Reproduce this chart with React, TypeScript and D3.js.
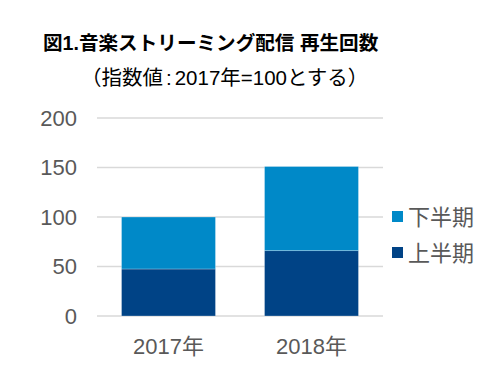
import React from "react";
import * as d3 from "d3";

const categories = ["2017年", "2018年"];
const firstHalf = [47.5, 66];
const secondHalf = [52.5, 85];
const seriesNames = ["上半期", "下半期"];
const yTicks = [0, 50, 100, 150, 200];
const colors = ["#004386", "#0089C8"];

const FONT = "'Liberation Sans', Arial, 'Noto Sans CJK JP', sans-serif";

export default function App() {
  const W = 504, H = 384;
  const y = d3.scaleLinear().domain([0, 200]).range([316, 118]);
  const x = d3.scaleBand<string>().domain(categories).range([97, 383]).paddingInner(0.343).paddingOuter(0.1715);
  const rows = categories.map((c, i) => ({ cat: c, a: firstHalf[i], b: secondHalf[i] }));
  const stacked = d3.stack<any>().keys(["a", "b"])(rows);

  return (
    <svg width={W} height={H} style={{ position: "absolute", left: 0, top: 0 }}>
      <rect width={W} height={H} fill="#fff" />
      <text x={43} y={50} fontFamily={FONT} fontWeight="bold" fontSize={19.6} fill="#000">
        図1.音楽ストリーミング配信 再生回数
      </text>
      <text x={81} y={85} fontFamily={FONT} fontSize={20.5} fill="#000">
        （指数値<tspan dx={3}>:</tspan><tspan dx={3}>2017年=100とする）</tspan>
      </text>
      {yTicks.map((t) => (
        <g key={t}>
          <line x1={97} x2={383} y1={y(t)} y2={y(t)} stroke="#d9d9d9" strokeWidth={1.5} />
          <text x={77} y={y(t)} dy="0.36em" textAnchor="end" fontFamily={FONT} fontSize={22} fill="#595959">
            {t}
          </text>
        </g>
      ))}
      {stacked.map((s, si) => (
        <g key={si}>
          {s.map((d, i) => (
            <rect
              key={i}
              x={x(categories[i])}
              width={x.bandwidth()}
              y={y(d[1])}
              height={y(d[0]) - y(d[1])}
              fill={colors[si]}
              stroke="#ffffff"
              strokeOpacity={0.35}
              strokeWidth={0.75}
            />
          ))}
        </g>
      ))}
      {categories.map((c) => (
        <text key={c} x={(x(c) as number) + x.bandwidth() / 2} y={354} textAnchor="middle" fontFamily={FONT} fontSize={22} fill="#595959">
          {c}
        </text>
      ))}
      {[1, 0].map((si, k) => (
        <g key={si}>
          <rect x={392} y={211 + k * 36} width={11} height={11} fill={colors[si]} />
          <text x={408} y={225 + k * 36} fontFamily={FONT} fontSize={22} fill="#595959">
            {seriesNames[si]}
          </text>
        </g>
      ))}
    </svg>
  );
}
